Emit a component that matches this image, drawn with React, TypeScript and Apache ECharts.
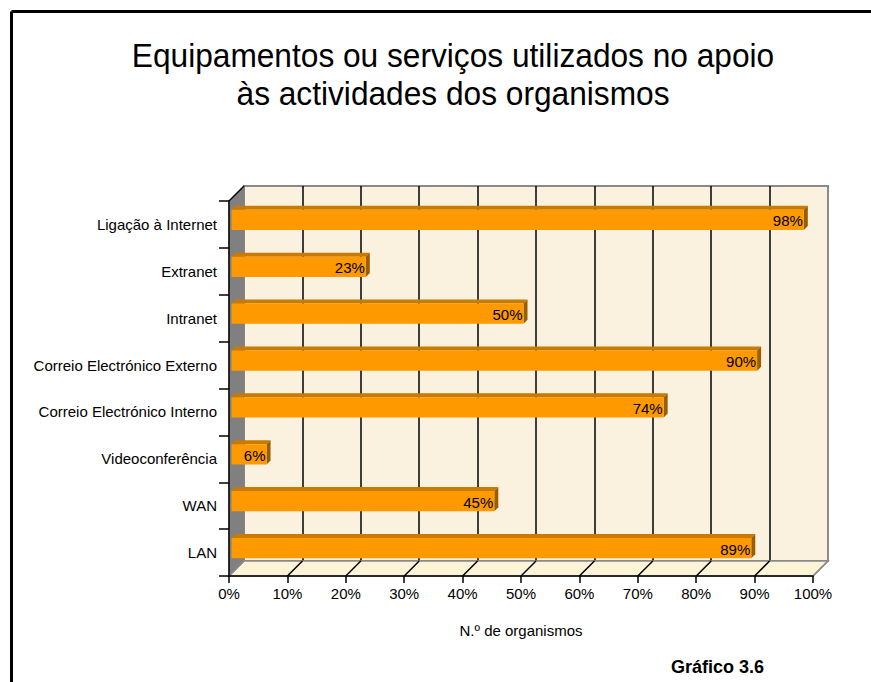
import React, { useEffect, useRef } from "react";
import * as echarts from "echarts";

const categories = [
  "LAN",
  "WAN",
  "Videoconferência",
  "Correio Electrónico Interno",
  "Correio Electrónico Externo",
  "Intranet",
  "Extranet",
  "Ligação à Internet",
];
const values = [89, 45, 6, 74, 90, 50, 23, 98];
const xTicks = [0, 10, 20, 30, 40, 50, 60, 70, 80, 90, 100];
const tickLabels = ["0%", "10%", "20%", "30%", "40%", "50%", "60%", "70%", "80%", "90%", "100%"];
const titleLines = ["Equipamentos ou serviços utilizados no apoio", "às actividades dos organismos"];
const axisName = "N.º de organismos";
const footer = "Gráfico 3.6";

const FONT = 'Arial, "Liberation Sans", sans-serif';
const DEPTH = 15;

export default function App() {
  const ref = useRef<HTMLDivElement>(null);
  useEffect(() => {
    if (!ref.current) return;
    const chart = echarts.init(ref.current, null, { renderer: "svg" });
    const splitColors = xTicks.map((_, i) =>
      i === 0 || i === xTicks.length - 1 ? "#8a8a8a" : "#000"
    );
    const option: any = {
      animation: false,
      backgroundColor: "#fff",
      textStyle: { fontFamily: FONT },
      grid: [
        { left: 229, top: 201, width: 584, height: 375, z: 0 },
        {
          left: 229 + DEPTH,
          top: 201 - DEPTH,
          width: 584,
          height: 375,
          show: true,
          backgroundColor: "#FBF1DF",
          borderColor: "#8a8a8a",
          borderWidth: 2,
          z: 0,
        },
      ],
      xAxis: [
        {
          gridIndex: 0,
          type: "value",
          min: 0,
          max: 100,
          interval: 10,
          z: 4,
          axisLine: { show: true, lineStyle: { color: "#000", width: 1.5 } },
          axisTick: { show: true, length: 7, lineStyle: { color: "#000", width: 1.5 } },
          axisLabel: {
            fontSize: 15,
            color: "#000",
            fontFamily: FONT,
            margin: 10,
            formatter: (v: number) => tickLabels[xTicks.indexOf(v)],
          },
          splitLine: { show: false },
          name: axisName,
          nameLocation: "middle",
          nameGap: 47,
          nameTextStyle: { fontSize: 15, color: "#000", fontFamily: FONT },
        },
        {
          gridIndex: 1,
          type: "value",
          min: 0,
          max: 100,
          interval: 10,
          z: 1,
          axisLine: { show: false },
          axisTick: { show: false },
          axisLabel: { show: false },
          splitLine: { show: true, lineStyle: { color: splitColors, width: 1.5 } },
        },
      ],
      yAxis: [
        {
          gridIndex: 0,
          type: "category",
          data: categories,
          z: 4,
          axisLine: { show: true, lineStyle: { color: "#000", width: 1.5 } },
          axisTick: { show: true, length: 10, lineStyle: { color: "#000", width: 1.5 } },
          axisLabel: { fontSize: 15, color: "#000", fontFamily: FONT, margin: 12 },
        },
        { gridIndex: 1, type: "value", show: false },
      ],
      graphic: [
        { type: "line", shape: { x1: 11.5, y1: 11.5, x2: 871, y2: 11.5 }, style: { stroke: "#000", lineWidth: 3 } },
        { type: "line", shape: { x1: 11.5, y1: 11.5, x2: 11.5, y2: 682 }, style: { stroke: "#000", lineWidth: 3 } },
        {
          type: "text",
          x: 453,
          y: 56,
          scaleX: 0.96,
          style: { text: titleLines[0], align: "center", verticalAlign: "middle", font: `33px ${FONT}`, fill: "#000" },
        },
        {
          type: "text",
          x: 453,
          y: 94,
          scaleX: 0.96,
          style: { text: titleLines[1], align: "center", verticalAlign: "middle", font: `33px ${FONT}`, fill: "#000" },
        },
        {
          type: "text",
          x: 671,
          y: 667,
          style: { text: footer, align: "left", verticalAlign: "middle", font: `bold 18px ${FONT}`, fill: "#000" },
        },
      ],
      series: [
        {
          type: "custom",
          xAxisIndex: 0,
          yAxisIndex: 0,
          z: 2,
          silent: true,
          data: [[0, 0]],
          renderItem: (params: any) => {
            const cs = params.coordSys;
            const l = cs.x, t = cs.y, r = cs.x + cs.width, b = cs.y + cs.height;
            return {
              type: "group",
              children: [
                {
                  type: "polygon",
                  shape: { points: [[l, t], [l + DEPTH, t - DEPTH], [l + DEPTH, b - DEPTH], [l, b]] },
                  style: { fill: "#808080", stroke: "#808080", lineWidth: 1 },
                },
                {
                  type: "polygon",
                  shape: { points: [[l, b], [l + DEPTH, b - DEPTH], [r + DEPTH, b - DEPTH], [r, b]] },
                  style: { fill: "#FDF3D6", stroke: "#8a8a8a", lineWidth: 1.5 },
                },
                {
                  type: "line",
                  shape: { x1: l, y1: t, x2: l + DEPTH, y2: t - DEPTH },
                  style: { stroke: "#000", lineWidth: 1.5 },
                },
              ],
            };
          },
        },
        {
          type: "custom",
          xAxisIndex: 0,
          yAxisIndex: 0,
          z: 2.5,
          silent: true,
          data: xTicks.map((v) => [v, 0]),
          renderItem: (params: any, api: any) => {
            const cs = params.coordSys;
            const b = cs.y + cs.height;
            const x = api.coord([api.value(0), 0])[0];
            const edge = params.dataIndex === 0 || params.dataIndex === xTicks.length - 1;
            return {
              type: "line",
              shape: { x1: x, y1: b, x2: x + DEPTH, y2: b - DEPTH },
              style: { stroke: edge ? "#8a8a8a" : "#000", lineWidth: 1.5 },
            };
          },
        },
        {
          type: "custom",
          xAxisIndex: 0,
          yAxisIndex: 0,
          z: 3,
          silent: true,
          data: values.map((v, i) => [v, i]),
          renderItem: (params: any, api: any) => {
            const v = api.value(0);
            const c = api.value(1);
            const s = api.coord([0, c]);
            const e = api.coord([v, c]);
            const bh = api.size([0, 1])[1] * 0.43;
            const sx = 2.5, sy = -4.5, d = 4;
            const x0 = s[0] + sx, x1 = e[0] + sx, yc = s[1] + sy;
            const top = yc - bh / 2, bot = yc + bh / 2;
            return {
              type: "group",
              children: [
                {
                  type: "polygon",
                  shape: { points: [[x0, top], [x0 + d, top - d], [x1 + d, top - d], [x1, top]] },
                  style: { fill: "#C97A00" },
                },
                {
                  type: "polygon",
                  shape: { points: [[x1, top], [x1 + d, top - d], [x1 + d, bot - d], [x1, bot]] },
                  style: { fill: "#9A5E00" },
                },
                {
                  type: "rect",
                  shape: { x: x0, y: top, width: x1 - x0, height: bh },
                  style: { fill: "#FF9900" },
                },
                {
                  type: "text",
                  x: x1 - 1,
                  y: yc + 1,
                  style: {
                    text: v + "%",
                    align: "right",
                    verticalAlign: "middle",
                    font: `15px ${FONT}`,
                    fill: "#000",
                  },
                },
              ],
            };
          },
        },
      ],
    };
    chart.setOption(option);
    return () => chart.dispose();
  }, []);
  return <div ref={ref} style={{ position: "fixed", left: 0, top: 0, width: 871, height: 682 }} />;
}
